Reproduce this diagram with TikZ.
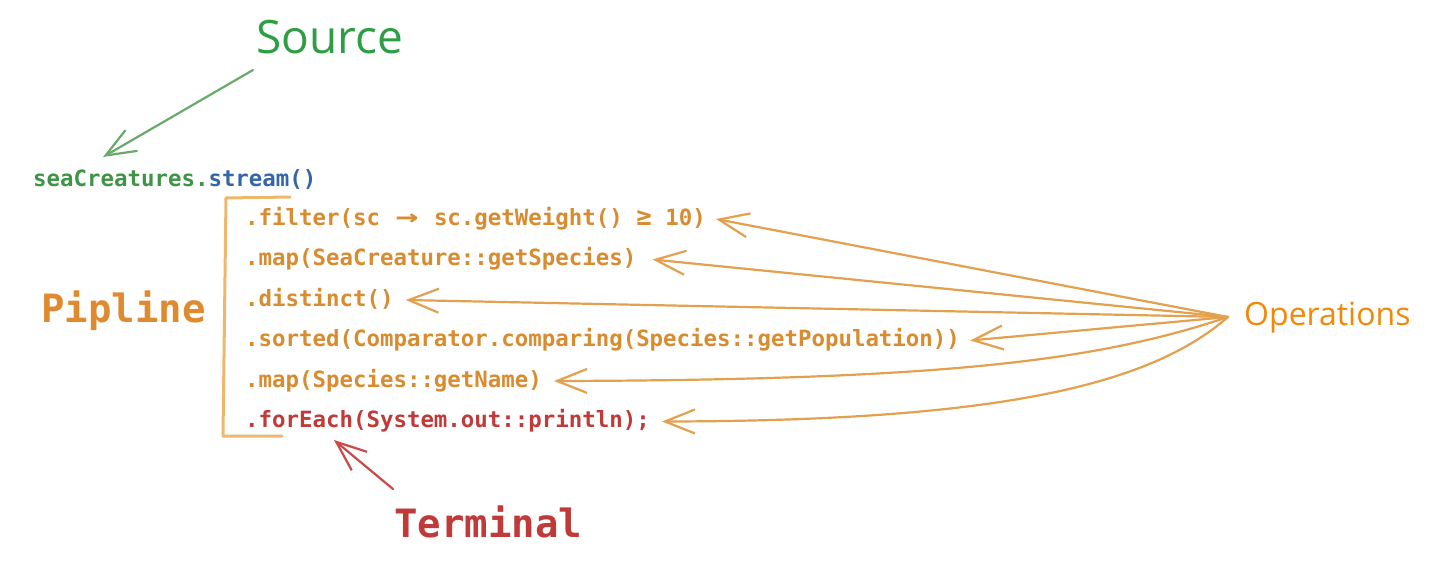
\documentclass[tikz,border=0pt]{standalone}
\usepackage{fontspec}
\usepackage{graphicx}
\setmainfont{Open Sans}
\newfontfamily\codefont{DejaVu Sans Mono}
\usetikzlibrary{arrows.meta}
\definecolor{srcgreen}{HTML}{2E9E45}
\definecolor{codegreen}{HTML}{3E9447}
\definecolor{srcarrow}{HTML}{6AAA6C}
\definecolor{streamblue}{HTML}{3466A8}
\definecolor{codeorange}{HTML}{D98B2F}
\definecolor{pipeorange}{HTML}{E08A30}
\definecolor{opsorange}{HTML}{F0890A}
\definecolor{opsline}{HTML}{E3A04F}
\definecolor{bracketc}{HTML}{EDB86C}
\definecolor{termred}{HTML}{C03A3A}
\definecolor{termarrow}{HTML}{C84A4A}
\tikzset{
  codeline/.style={anchor=base west, inner sep=0pt, text height=16pt, text depth=4pt,
    font=\codefont\bfseries\fontsize{22.4}{26}\selectfont, text=codeorange},
  bigmono/.style={anchor=base west, inner sep=0pt,
    font=\codefont\bfseries\fontsize{39}{44}\selectfont},
  label/.style={anchor=base west, inner sep=0pt},
  barb/.style={-{Straight Barb[length=30pt,width=24pt]}, line width=2.2pt, line cap=round},
  opsarrow/.style={barb, draw=opsline},
}
\begin{document}
\begin{tikzpicture}[x=1pt,y=-1pt]
\useasboundingbox (0,0) rectangle (1436,560);
\fill[white] (0,0) rectangle (1436,560);

% labels
\node[label, text=srcgreen, font=\fontsize{46}{52}\selectfont] (source) at (256,53) {Source};
\node[label, text=opsorange, font=\fontsize{32}{38}\selectfont] (ops) at (1244,325) {Operations};
\node[bigmono, text=pipeorange] (pipe) at (41,322) {Pipline};
\node[bigmono, text=termred] (term) at (394,537) {Terminal};

% code
\node[codeline] (src) at (33,186) {{\color{codegreen}seaCreatures.}{\color{streamblue}stream()}};
\node[codeline] (l1) at (245,225) {.filter(sc \makebox[1.204em]{\scalebox{1.7}[1.15]{→}} sc.getWeight() \scalebox{1.15}{≥} 10)};
\node[codeline] (l2) at (245,265.5) {.map(SeaCreature::getSpecies)};
\node[codeline] (l3) at (245,306) {.distinct()};
\node[codeline] (l4) at (245,346.5) {.sorted(Comparator.comparing(Species::getPopulation))};
\node[codeline] (l5) at (245,387) {.map(Species::getName)};
\node[codeline, text=termred] (l6) at (245,427.5) {.forEach(System.out::println);};

% bracket
\draw[bracketc, line width=3pt, line cap=round, line join=round]
  (290,197) -- (226,198) -- (223,436) -- (282,436);

% source and terminal arrows
\draw[barb, draw=srcarrow] ([shift={(-3,17)}]source.base west) -- ([shift={(70,-29)}]src.base west);
\draw[barb, draw=termarrow] ([shift={(-1,-48)}]term.base west) -- ([shift={(89,12.5)}]l6.base west);

% operations arrows
\coordinate (O) at (1228,317);
\draw[opsarrow] (O) -- ([xshift=10pt]l1.east);
\draw[opsarrow] (O) -- ([xshift=16pt]l2.east);
\draw[opsarrow] (O) -- ([xshift=12pt]l3.east);
\draw[opsarrow] (O) -- ([xshift=10pt]l4.east);
\draw[opsarrow] (O) .. controls (1100,360) and (950,380) .. ([xshift=12pt]l5.east);
\draw[opsarrow] (O) .. controls (1150,385) and (1000,421) .. ([xshift=12pt]l6.east);
\end{tikzpicture}
\end{document}
